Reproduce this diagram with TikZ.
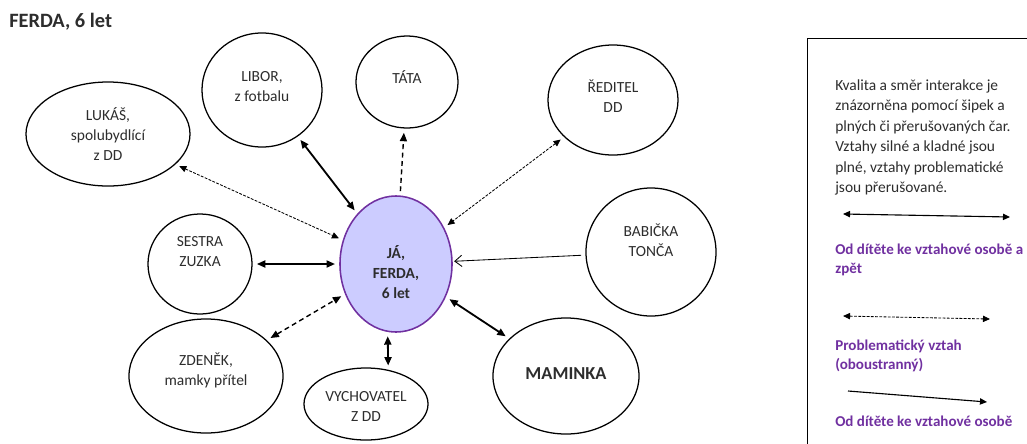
\documentclass[tikz,border=0pt]{standalone}
\usepackage{fontspec}
\setmainfont{Carlito}
\usetikzlibrary{shapes.geometric,arrows.meta}
\definecolor{fialova}{RGB}{112,48,160}
\definecolor{levandule}{RGB}{204,204,255}
\definecolor{sedy}{RGB}{45,45,45}

\begin{document}
\begin{tikzpicture}[x=0.025cm,y=-0.025cm,
    osoba/.style={draw, ellipse, line width=0.9pt, inner sep=0pt},
    jmeno/.style={align=center, text=sedy, font=\fontsize{11}{14.5}\selectfont},
    silna/.style={line width=1.3pt, shorten <=3pt, shorten >=3pt, {Triangle[length=6pt,width=5pt]}-{Triangle[length=6pt,width=5pt]}},
    tecky/.style={line width=0.6pt, dash pattern=on 2pt off 1pt, shorten <=3pt, shorten >=3pt, {Triangle[length=5pt,width=4.5pt]}-{Triangle[length=5pt,width=4.5pt]}},
    carky/.style={line width=1pt, dash pattern=on 3.5pt off 2.5pt, shorten <=3pt, shorten >=3pt},
    jednosmer/.style={line width=0.6pt, shorten <=3pt, shorten >=1pt, -{Straight Barb[length=5pt,width=8pt]}},
    vysvetlivka/.style={anchor=north west, inner sep=0pt, align=left, text=fialova, font=\bfseries\fontsize{10.7}{13.5}\selectfont}]
    {
    \useasboundingbox (0,0) rectangle (1027,443);
    \clip (0,0) rectangle (1027,443);

    \node[anchor=west, inner sep=0pt, text=sedy, font=\bfseries\fontsize{14.5}{16}\selectfont] (nadpis) at (9,22) {FERDA, 6 let};

    % osoby
    \node[osoba, fill=levandule, draw=fialova, line width=1.1pt, minimum width=2.8cm, minimum height=3.4cm,
        label={[jmeno, font=\bfseries\fontsize{11}{14.5}\selectfont, yshift=-0.2cm]center:{JÁ,\\FERDA,\\6 let}}] (ja) at (396,264) {};
    \node[osoba, minimum width=4.1cm, minimum height=2.6cm,
        label={[jmeno]center:{LUKÁŠ,\\spolubydlící\\z DD}}] (lukas) at (108,134) {};
    \node[osoba, minimum width=3cm, minimum height=2.85cm,
        label={[jmeno, yshift=0.09cm]center:{LIBOR,\\z fotbalu}}] (libor) at (262,90) {};
    \node[osoba, minimum width=2.55cm, minimum height=2.3cm,
        label={[jmeno, yshift=0.125cm]center:{TÁTA}}] (tata) at (407,82) {};
    \node[osoba, minimum width=3.25cm, minimum height=2.75cm,
        label={[jmeno, yshift=0.09cm]center:{ŘEDITEL\\DD}}] (reditel) at (613,100) {};
    \node[osoba, minimum width=3.25cm, minimum height=3.2cm,
        label={[jmeno, yshift=0.29cm]center:{BABIČKA\\TONČA}}] (babicka) at (651,252) {};
    \node[osoba, minimum width=2.6cm, minimum height=2.5cm,
        label={[jmeno, yshift=0.31cm]center:{SESTRA\\ZUZKA}}] (sestra) at (200,264) {};
    \node[osoba, minimum width=3.85cm, minimum height=2.85cm,
        label={[jmeno, yshift=0.14cm]center:{ZDENĚK,\\mamky přítel}}] (zdenek) at (206,376) {};
    \node[osoba, minimum width=3.1cm, minimum height=1.8cm,
        label={[jmeno, yshift=-0.06cm]center:{VYCHOVATEL\\Z DD}}] (vych) at (366,404) {};
    \node[osoba, minimum width=3.65cm, minimum height=2.9cm,
        label={[jmeno, font=\bfseries\fontsize{13}{15}\selectfont, yshift=0.05cm]center:{MAMINKA}}] (maminka) at (566,376) {};

    % vztahy
    \draw[tecky] (lukas) -- (ja);
    \draw[silna] (libor) -- (ja);
    \draw[carky, -{Triangle[length=6pt,width=5pt]}] (ja) -- (tata);
    \draw[tecky] (reditel) -- (ja);
    \draw[jednosmer] (babicka) -- (ja);
    \draw[silna] (sestra) -- (ja);
    \draw[carky, {Triangle[length=6pt,width=5pt]}-{Triangle[length=6pt,width=5pt]}] (zdenek) -- (ja);
    \draw[silna] (ja.263) -- (vych.57);
    \draw[silna] (ja) -- (maminka);

    % legenda
    \node[draw, line width=0.9pt, anchor=north west, minimum width=6cm, minimum height=11cm] (legenda) at (807,38) {};
    \node[anchor=north west, inner sep=0pt, align=left, text=sedy, font=\fontsize{11}{14.6}\selectfont] (popis) at (835,79)
        {Kvalita a směr interakce je\\znázorněna pomocí šipek a\\plných či přerušovaných čar.\\Vztahy silné a kladné jsou\\plné, vztahy problematické\\jsou přerušované.};

    \coordinate (l1a) at (843,214);
    \coordinate (l1b) at (1010,217);
    \draw[line width=0.8pt, {Triangle[length=5pt,width=4.5pt]}-{Triangle[length=5pt,width=4.5pt]}] (l1a) -- (l1b);
    \node[vysvetlivka] (oboustranny) at (835,244) {Od dítěte ke vztahové osobě a\\zpět};

    \coordinate (l2a) at (843,316);
    \coordinate (l2b) at (990,319);
    \draw[line width=0.6pt, dash pattern=on 2pt off 1pt, {Triangle[length=5pt,width=4.5pt]}-{Triangle[length=5pt,width=4.5pt]}] (l2a) -- (l2b);
    \node[vysvetlivka] (problem) at (835,340) {Problematický vztah\\(oboustranný)};

    \coordinate (l3a) at (848,391);
    \coordinate (l3b) at (987,402);
    \draw[line width=0.8pt, -{Triangle[length=5pt,width=4.5pt]}] (l3a) -- (l3b);
    \node[vysvetlivka] (jednostranny) at (835,416) {Od dítěte ke vztahové osobě};
}
\end{tikzpicture}
\end{document}
